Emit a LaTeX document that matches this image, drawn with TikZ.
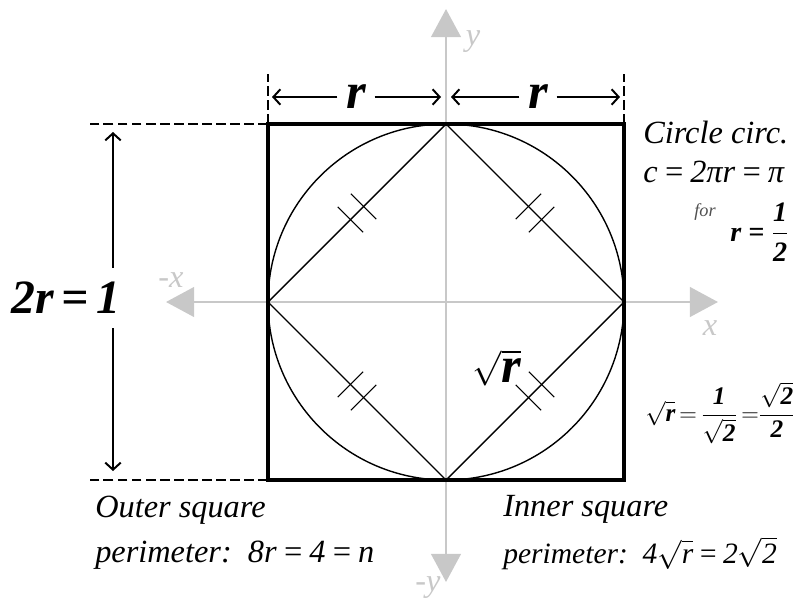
\documentclass[tikz,border=0pt]{standalone}
\usepackage{amsmath}
\usepackage{fontspec}
\setmainfont{Liberation Serif}
\usepackage{xcolor}
\usepackage{tikz}
\usetikzlibrary{arrows.meta, calc}
\definecolor{axisgray}{HTML}{C8C8C8}
\definecolor{forgray}{HTML}{505050}

\begin{document}
\begin{tikzpicture}[x=0.025cm, y=-0.025cm,
  font=\fontsize{23}{26}\selectfont\itshape,
  axis/.style={draw=axisgray, line width=2pt, {Triangle[length=20pt,width=21pt]}-{Triangle[length=20pt,width=21pt]}},
  axislbl/.style={color=axisgray, inner sep=0pt},
  frame/.style={draw=black, line width=2.3pt},
  thinline/.style={draw=black, line width=1pt},
  hashmark/.style={draw=black, line width=0.8pt},
  dimline/.style={draw=black, line width=1.8pt, dash pattern=on 7pt off 3pt},
  dimarrow/.style={draw=black, line width=1.4pt, -{Straight Barb[length=5pt,width=11pt]}},
  bigbold/.style={font=\fontsize{36}{38}\selectfont\bfseries\itshape, inner sep=6pt},
  note/.style={anchor=west, inner sep=0pt}
]
  \useasboundingbox (0,0) rectangle (801,599);
  \coordinate (O) at (446,302);
  \coordinate (T) at (446,124);
  \coordinate (B) at (446,480);
  \coordinate (L) at (268,302);
  \coordinate (R) at (624,302);
  \coordinate (TL) at (268,124);
  \coordinate (TR) at (624,124);
  \coordinate (BL) at (268,480);
  \coordinate (BR) at (624,480);
  % axes
  \coordinate (xneg) at (166,302);
  \coordinate (xpos) at (718,302);
  \coordinate (ypos) at (446,9);
  \coordinate (yneg) at (446,582);
  \draw[axis] (xneg) -- (xpos);
  \draw[axis] (yneg) -- (ypos);
  \node[axislbl] (lx) at (710,328) {x};
  \node[axislbl] (lnx) at (171,280) {-x};
  \node[axislbl] (ly) at (473,42) {y};
  \node[axislbl] (lny) at (428,588) {-y};
  % circle, squares
  \draw[thinline] (O) circle (178);
  \draw[thinline] (T) -- (R) -- (B) -- (L) -- cycle;
  \draw[frame] (TL) rectangle (BR);
  \foreach \a/\b in {T/L, T/R, B/L, B/R} {
    \foreach \s in {0.463, 0.537} {
      \draw[hashmark] ($(\a)!\s!(\b)!0.45cm!90:(\b)$) -- ($(\a)!\s!(\b)!0.45cm!-90:(\b)$);
    }
  }
  % top dimension
  \coordinate (tlup) at (268,74);
  \coordinate (trup) at (624,74);
  \draw[dimline] (TL) -- (tlup);
  \draw[dimline] (TR) -- (trup);
  \node[bigbold] (rleft) at (356,97) {r};
  \node[bigbold] (rright) at (538,97) {r};
  \coordinate (a1) at (272,97);
  \coordinate (a2) at (441,97);
  \coordinate (a3) at (451,97);
  \coordinate (a4) at (620,97);
  \draw[dimarrow] (rleft) -- (a1);
  \draw[dimarrow] (rleft) -- (a2);
  \draw[dimarrow] (rright) -- (a3);
  \draw[dimarrow] (rright) -- (a4);
  % left dimension
  \coordinate (dltop) at (90,124);
  \coordinate (dlbot) at (90,480);
  \draw[dimline] (TL) -- (dltop);
  \draw[dimline] (BL) -- (dlbot);
  \node[bigbold, font=\fontsize{34}{36}\selectfont\bfseries\itshape, inner sep=10pt] (tworone) at (66,298) {2r\,=\,1};
  \coordinate (vtop) at (113,132);
  \coordinate (vbot) at (113,471);
  \draw[dimarrow] (tworone.north -| vtop) -- (vtop);
  \draw[dimarrow] (tworone.south -| vbot) -- (vbot);
  % texts
  \node[bigbold] (sqr) at (497,368) {$\sqrt{\textbf{\textit{r}}}$};
  \node[note] (circ) at (643,133) {Circle circ.};
  \node[note] (circeq) at (643,172) {c\,=\,2πr\,=\,π};
  \node[note, font=\fontsize{13}{14}\selectfont\itshape, color=forgray] (forlbl) at (694,212) {for};
  \node[note, font=\fontsize{20}{22}\selectfont\bfseries\itshape] (rhalf) at (730,232)
    {r = $\dfrac{\textbf{\textit{1}}}{\textbf{\textit{2}}}$};
  \node[note, font=\fontsize{18}{22}\selectfont\bfseries\itshape] (sqeq) at (645,413)
    {$\sqrt{\textbf{\textit{r}}}\,{=}\,\dfrac{\textbf{\textit{1}}}{\sqrt{\textbf{\textit{2}}}}\,{=}\dfrac{\sqrt{\textbf{\textit{2}}}}{\textbf{\textit{2}}}$};
  \node[note] (outera) at (95,510) {Outer square};
  \node[note] (outerb) at (95,555) {perimeter:\ \ 8r\,=\,4\,=\,n};
  \node[note] (innera) at (503,509) {Inner square};
  \node[note, font=\fontsize{21}{26}\selectfont\itshape] (innerb) at (503,557)
    {perimeter:\ \ 4$\smash{\sqrt{\textit{r}}}$\,=\,2$\smash{\sqrt{\textit{2}}}$};
\end{tikzpicture}
\end{document}
